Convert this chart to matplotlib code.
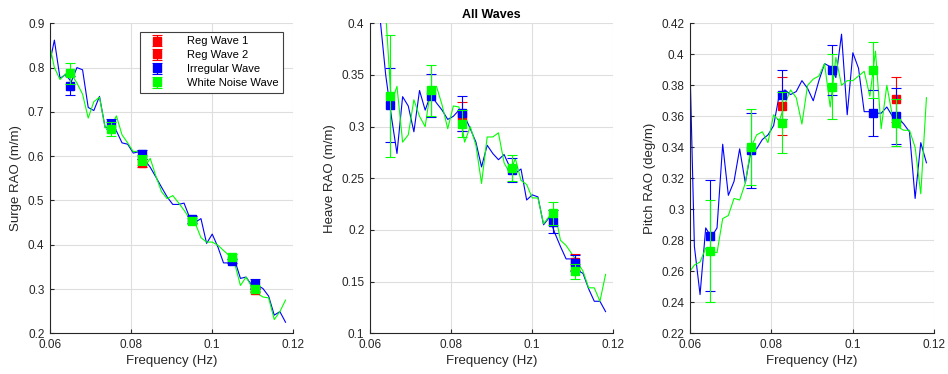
import matplotlib
matplotlib.use("Agg")
import matplotlib.pyplot as plt
from matplotlib.ticker import FuncFormatter, MultipleLocator

plt.rcParams['font.family'] = ['Liberation Sans', 'DejaVu Sans']

# ---------------- data ----------------
freq = [0.0597, 0.06109, 0.06248, 0.06387, 0.06526, 0.06665, 0.06804, 0.06943,
        0.07082, 0.07221, 0.0736, 0.07499, 0.07638, 0.07777, 0.07916, 0.08055,
        0.08194, 0.08333, 0.08472, 0.08611, 0.0875, 0.08889, 0.09028, 0.09167,
        0.09306, 0.09445, 0.09584, 0.09723, 0.09862, 0.10001, 0.1014, 0.10279,
        0.10418, 0.10557, 0.10696, 0.10835, 0.10974, 0.11113, 0.11252, 0.11391,
        0.1153, 0.11669, 0.11808]

surge_irr_line = [0.800, 0.862, 0.776, 0.784, 0.768, 0.800, 0.795, 0.710, 0.703, 0.735,
                  0.665, 0.665, 0.657, 0.630, 0.627, 0.607, 0.610, 0.592, 0.575, 0.553,
                  0.530, 0.508, 0.491, 0.491, 0.494, 0.461, 0.451, 0.459, 0.403, 0.424,
                  0.395, 0.359, 0.359, 0.365, 0.324, 0.327, 0.309, 0.309, 0.301, 0.284,
                  0.241, 0.249, 0.225]
surge_wn_line = [0.861, 0.800, 0.773, 0.786, 0.785, 0.765, 0.740, 0.686, 0.723, 0.733,
                 0.664, 0.664, 0.691, 0.648, 0.630, 0.610, 0.612, 0.575, 0.595, 0.555,
                 0.520, 0.504, 0.511, 0.495, 0.478, 0.459, 0.448, 0.416, 0.406, 0.406,
                 0.399, 0.387, 0.376, 0.357, 0.308, 0.327, 0.305, 0.290, 0.282, 0.280,
                 0.231, 0.249, 0.275]

heave_irr_line = [0.470, 0.440, 0.405, 0.350, 0.310, 0.274, 0.329, 0.320, 0.295, 0.335,
                  0.316, 0.331, 0.323, 0.316, 0.307, 0.310, 0.316, 0.310, 0.298, 0.285,
                  0.261, 0.282, 0.274, 0.268, 0.273, 0.261, 0.255, 0.259, 0.229, 0.234,
                  0.232, 0.205, 0.212, 0.197, 0.184, 0.172, 0.172, 0.161, 0.158, 0.143,
                  0.131, 0.131, 0.121]
heave_wn_line = [0.460, 0.450, 0.430, 0.410, 0.323, 0.339, 0.285, 0.292, 0.326, 0.310,
                 0.300, 0.337, 0.339, 0.321, 0.298, 0.320, 0.319, 0.285, 0.300, 0.282,
                 0.245, 0.290, 0.290, 0.294, 0.265, 0.255, 0.269, 0.248, 0.244, 0.231,
                 0.231, 0.206, 0.213, 0.218, 0.190, 0.185, 0.177, 0.169, 0.160, 0.144,
                 0.144, 0.131, 0.157]

pitch_irr_line = [0.425, 0.276, 0.245, 0.288, 0.282, 0.288, 0.342, 0.309, 0.318, 0.339,
                  0.317, 0.338, 0.339, 0.345, 0.348, 0.354, 0.374, 0.377, 0.374, 0.376,
                  0.383, 0.378, 0.370, 0.383, 0.394, 0.392, 0.385, 0.413, 0.361, 0.401,
                  0.391, 0.363, 0.363, 0.362, 0.362, 0.366, 0.360, 0.359, 0.355, 0.350,
                  0.307, 0.343, 0.330]
pitch_wn_line = [0.259, 0.264, 0.266, 0.275, 0.273, 0.272, 0.294, 0.296, 0.307, 0.306,
                 0.317, 0.340, 0.348, 0.350, 0.343, 0.361, 0.357, 0.368, 0.377, 0.372,
                 0.355, 0.380, 0.384, 0.386, 0.394, 0.366, 0.398, 0.380, 0.383, 0.383,
                 0.386, 0.389, 0.373, 0.402, 0.352, 0.380, 0.360, 0.353, 0.351, 0.351,
                 0.340, 0.310, 0.372]

# point measurements
pt_freq = [0.065, 0.075, 0.0826, 0.095, 0.105, 0.1105]
reg1_freq = [0.0826]
reg2_freq = [0.1105]

surge_reg1, surge_reg1_err = [0.584], [0.009]
surge_reg2, surge_reg2_err = [0.298], [0.004]
surge_irr = [0.759, 0.672, 0.604, 0.458, 0.363, 0.312]
surge_irr_err = [0.022, 0.011, 0.011, 0.008, 0.005, 0.011]
surge_wn = [0.787, 0.661, 0.591, 0.453, 0.373, 0.301]
surge_wn_err = [0.023, 0.016, 0.011, 0.007, 0.005, 0.005]

heave_reg1, heave_reg1_err = [0.310], [0.014]
heave_reg2, heave_reg2_err = [0.169], [0.008]
heave_irr = [0.321, 0.330, 0.313, 0.258, 0.208, 0.168]
heave_irr_err = [0.036, 0.021, 0.017, 0.012, 0.011, 0.008]
heave_wn = [0.330, 0.335, 0.303, 0.260, 0.216, 0.160]
heave_wn_err = [0.059, 0.025, 0.013, 0.013, 0.011, 0.007]

pitch_reg1, pitch_reg1_err = [0.3667], [0.0185]
pitch_reg2, pitch_reg2_err = [0.371], [0.0145]
pitch_irr = [0.283, 0.338, 0.374, 0.390, 0.362, 0.360]
pitch_irr_err = [0.036, 0.024, 0.016, 0.016, 0.015, 0.018]
pitch_wn = [0.273, 0.340, 0.356, 0.379, 0.390, 0.356]
pitch_wn_err = [0.033, 0.0245, 0.0195, 0.021, 0.018, 0.015]

panels = [
    dict(irr_line=surge_irr_line, wn_line=surge_wn_line,
         reg1=surge_reg1, reg1_err=surge_reg1_err, reg2=surge_reg2, reg2_err=surge_reg2_err,
         irr=surge_irr, irr_err=surge_irr_err, wn=surge_wn, wn_err=surge_wn_err,
         ylim=(0.2, 0.9), ystep=0.1, ylabel='Surge RAO (m/m)'),
    dict(irr_line=heave_irr_line, wn_line=heave_wn_line,
         reg1=heave_reg1, reg1_err=heave_reg1_err, reg2=heave_reg2, reg2_err=heave_reg2_err,
         irr=heave_irr, irr_err=heave_irr_err, wn=heave_wn, wn_err=heave_wn_err,
         ylim=(0.1, 0.4), ystep=0.05, ylabel='Heave RAO (m/m)'),
    dict(irr_line=pitch_irr_line, wn_line=pitch_wn_line,
         reg1=pitch_reg1, reg1_err=pitch_reg1_err, reg2=pitch_reg2, reg2_err=pitch_reg2_err,
         irr=pitch_irr, irr_err=pitch_irr_err, wn=pitch_wn, wn_err=pitch_wn_err,
         ylim=(0.22, 0.42), ystep=0.02, ylabel='Pitch RAO (deg/m)'),
]

# ---------------- figure ----------------
fig = plt.figure(figsize=(9.48, 3.74), dpi=100)
lefts = [0.0527, 0.3903, 0.7278]
widths = [0.2567, 0.2567, 0.2577]
bottom, height = 0.1088, 0.8289

axis_col = '#262626'
fmt = FuncFormatter(lambda v, p: ('%.2f' % v).rstrip('0').rstrip('.'))

RED, BLUE, GREEN = (1, 0, 0), (0, 0, 1), (0, 1, 0)
eb_kw = dict(fmt='s', ms=5.5, capsize=3.5, elinewidth=0.8, capthick=0.8)

for i, p in enumerate(panels):
    ax = fig.add_axes([lefts[i], bottom, widths[i], height])
    ax.plot(freq, p['irr_line'], color=BLUE, lw=0.8, zorder=2)
    ax.plot(freq, p['wn_line'], color=GREEN, lw=0.8, zorder=2)
    h1 = ax.errorbar(reg1_freq, p['reg1'], yerr=p['reg1_err'], color=RED, label='Reg Wave 1', zorder=3, **eb_kw)
    h2 = ax.errorbar(reg2_freq, p['reg2'], yerr=p['reg2_err'], color=RED, label='Reg Wave 2', zorder=3, **eb_kw)
    h3 = ax.errorbar(pt_freq, p['irr'], yerr=p['irr_err'], color=BLUE, label='Irregular Wave', zorder=4, **eb_kw)
    h4 = ax.errorbar(pt_freq, p['wn'], yerr=p['wn_err'], color=GREEN, label='White Noise Wave', zorder=5, **eb_kw)

    ax.set_xlim(0.06, 0.12)
    ax.set_ylim(*p['ylim'])
    ax.xaxis.set_major_locator(MultipleLocator(0.02))
    ax.yaxis.set_major_locator(MultipleLocator(p['ystep']))
    ax.xaxis.set_major_formatter(fmt)
    ax.yaxis.set_major_formatter(fmt)
    ax.grid(True, color='#dedede', lw=0.8)
    ax.set_axisbelow(True)
    for s in ['top', 'right']:
        ax.spines[s].set_visible(False)
    for s in ['left', 'bottom']:
        ax.spines[s].set_color(axis_col)
        ax.spines[s].set_linewidth(0.8)
    ax.tick_params(direction='in', length=3, width=0.8, colors=axis_col, labelsize=8.5,
                   labelcolor=axis_col, pad=4)
    ax.set_xlabel('Frequency (Hz)', fontsize=9.5, color=axis_col, labelpad=3)
    ax.set_ylabel(p['ylabel'], fontsize=9.5, color=axis_col, labelpad=4)
    if i == 1:
        ax.set_title('All Waves', fontsize=9, fontweight='bold', color='black', pad=4)
    if i == 0:
        leg = ax.legend(handles=[h1, h2, h3, h4], loc='upper right',
                        bbox_to_anchor=(0.958, 0.972), borderaxespad=0,
                        fontsize=8, frameon=True, fancybox=False, framealpha=1,
                        edgecolor='#404040', handlelength=2.2, handletextpad=1.6,
                        borderpad=0.4, labelspacing=0.35)
        leg.get_frame().set_linewidth(0.8)

fig.savefig('out.png', dpi=100)
